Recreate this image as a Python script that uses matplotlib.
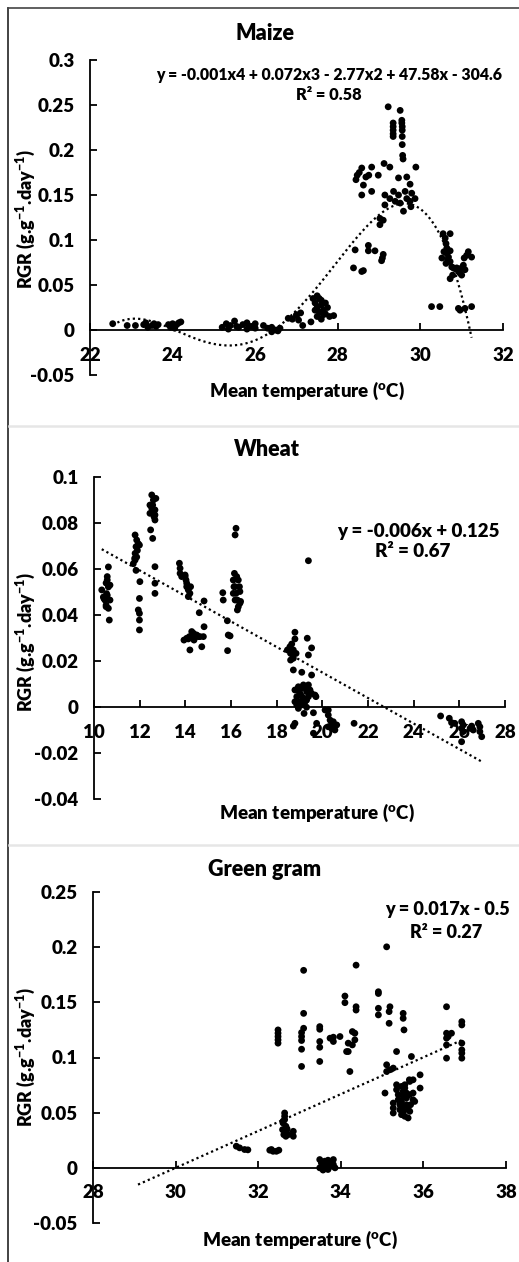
import numpy as np
import matplotlib
matplotlib.use('Agg')
import matplotlib.pyplot as plt
from matplotlib.ticker import FuncFormatter
from matplotlib.lines import Line2D

WEIGHT = 'heavy'
plt.rcParams['font.family'] = ['Lato', 'DejaVu Sans']
plt.rcParams['font.weight'] = WEIGHT
plt.rcParams['mathtext.fontset'] = 'custom'
plt.rcParams['mathtext.rm'] = 'Lato:' + WEIGHT
plt.rcParams['mathtext.it'] = 'Lato:' + WEIGHT
plt.rcParams['mathtext.bf'] = 'Lato:' + WEIGHT
plt.rcParams['mathtext.default'] = 'rm'

# ---- Maize: mean temperature vs RGR ----
maize_temp = [22.55, 22.9, 23.1, 23.3, 23.35, 23.4, 23.5, 23.55, 23.6, 23.65, 23.9, 23.95, 24.0, 24.0, 24.05, 24.1, 24.15, 24.2,
              25.2, 25.3, 25.35, 25.4, 25.5, 25.55, 25.6, 25.7, 25.8, 25.8, 25.9, 26.0, 26.0, 26.2, 26.3, 26.4, 26.4, 26.5, 26.55, 26.6,
              26.8, 26.9, 27.0, 27.0, 27.05, 27.1, 27.15, 27.35, 27.4, 27.45, 27.45, 27.5, 27.5, 27.5, 27.55, 27.55, 27.6, 27.6, 27.6,
              27.65, 27.65, 27.7, 27.7, 27.75, 27.8, 27.9,
              29.22, 29.51, 29.34, 29.34, 29.34, 29.34, 29.34, 29.55, 29.55, 29.56, 29.56, 29.56, 29.56, 29.57, 29.58,
              29.12, 29.26, 29.89, 28.58, 28.82, 28.68, 28.47, 28.44, 28.62, 28.82, 28.58, 28.98, 28.75, 28.52,
              29.47, 29.67, 29.75, 29.14, 29.35, 29.47, 29.39, 29.63, 29.79, 29.75, 29.87, 29.59, 29.77, 29.51, 29.67, 29.14, 29.26,
              29.02, 29.1, 29.02, 28.42, 28.74, 28.74, 28.9, 29.1, 29.08, 29.06, 28.38, 28.62, 28.58,
              30.55, 30.72, 30.6, 30.62, 30.64, 30.57, 30.52, 30.68, 30.72, 30.76, 30.78, 30.72, 30.8, 30.88, 30.96, 31.0, 31.04,
              31.06, 31.12, 31.16, 31.24, 31.08, 31.0, 30.92, 30.64, 30.72, 30.66, 30.62,
              30.27, 30.47, 30.92, 31.08, 31.24, 30.96]
maize_rgr = [0.007, 0.005, 0.005, 0.006, 0.008, 0.003, 0.005, 0.007, 0.004, 0.006, 0.006, 0.003, 0.004, 0.007, 0.002, 0.006, 0.008, 0.009,
             0.003, 0.007, 0.001, 0.005, 0.010, 0.004, 0.003, 0.006, 0.008, 0.001, 0.004, 0.007, 0.002, 0.005, 0.002, -0.002, 0.003, 0.0, -0.001, 0.002,
             0.013, 0.012, 0.016, 0.017, 0.011, 0.019, 0.005, 0.009, 0.035, 0.030, 0.022, 0.038, 0.025, 0.015, 0.020, 0.035, 0.033, 0.028, 0.012,
             0.022, 0.017, 0.030, 0.018, 0.025, 0.015, 0.016,
             0.248, 0.244, 0.230, 0.226, 0.222, 0.218, 0.215, 0.233, 0.230, 0.226, 0.222, 0.215, 0.206, 0.194, 0.190,
             0.185, 0.181, 0.181, 0.180, 0.181, 0.170, 0.172, 0.167, 0.161, 0.154, 0.150, 0.172, 0.172, 0.175,
             0.169, 0.170, 0.162, 0.150, 0.154, 0.150, 0.143, 0.154, 0.152, 0.143, 0.146, 0.132, 0.137, 0.141, 0.146, 0.139, 0.146,
             0.124, 0.122, 0.117, 0.089, 0.094, 0.088, 0.088, 0.084, 0.080, 0.077, 0.069, 0.066, 0.065,
             0.107, 0.107, 0.102, 0.096, 0.091, 0.087, 0.080, 0.081, 0.076, 0.070, 0.061, 0.057, 0.069, 0.069, 0.063, 0.069, 0.072,
             0.080, 0.083, 0.087, 0.081, 0.067, 0.061, 0.065, 0.085, 0.088, 0.078, 0.074,
             0.026, 0.026, 0.024, 0.024, 0.026, 0.022]
# 4th order trend line (roots and scale)
maize_fit_roots = [22.4, 24.05, 26.45, 31.2]
maize_fit_scale = -0.000698
maize_eq = "y = -0.001x4 + 0.072x3 - 2.77x2 + 47.58x - 304.6"
maize_r2 = "R² = 0.58"

# ---- Wheat ----
wheat_temp = [10.34, 10.41, 10.55, 10.48, 10.53, 10.58, 10.63, 10.58, 10.58, 10.63, 10.53, 10.63, 10.67, 10.7, 10.53, 10.44, 10.7,
              11.8, 11.87, 11.84, 11.8, 11.8, 11.87, 11.9, 11.94, 11.72, 11.84, 11.78, 11.99, 12.01, 11.99, 11.94, 11.99, 11.99, 11.99,
              12.53, 12.6, 12.57, 12.53, 12.6, 12.45, 12.63, 12.67, 12.71, 12.67, 12.48, 12.57, 12.67, 12.67, 12.67, 12.67, 12.45,
              13.74, 13.77, 13.77, 13.84, 13.99, 14.03, 14.06, 14.06, 14.13, 14.2, 14.23, 14.13, 13.99,
              14.61, 14.82, 14.82, 14.72,
              13.94, 14.06, 14.18, 14.28, 14.36, 14.42, 14.5, 14.64, 14.79, 14.2, 14.38, 14.56, 14.32, 14.13,
              15.64, 15.66, 15.84, 15.88, 15.96, 15.85, 16.18, 16.22, 16.15, 16.1, 16.18, 16.22, 16.28, 16.32, 16.18, 16.37, 16.39,
              16.42, 16.1, 16.25, 16.32, 16.13, 16.28, 16.39,
              18.47, 18.58, 18.66, 18.73, 18.61, 18.73, 18.85, 18.8, 18.8, 18.7, 18.61, 18.73, 19.1, 19.34, 19.53, 19.53, 19.39,
              19.39,
              18.8, 18.88, 18.95, 19.02, 19.09, 19.17, 19.24, 19.31, 19.39, 19.46, 19.02, 19.17, 19.31, 18.88, 18.95, 19.09, 19.24,
              19.39, 19.53, 19.68, 19.72, 19.2, 19.31, 18.8, 18.95, 19.09, 19.61,
              18.73, 18.8, 19.61, 19.75, 20.12, 20.26, 20.26, 20.34, 20.41, 20.48, 20.55, 20.48, 20.26, 20.41, 20.63, 21.39,
              25.18, 25.56, 25.66, 25.8, 26.1, 26.1, 26.17, 26.17, 26.1, 26.47, 26.54, 26.83, 26.9, 26.9, 26.98, 26.61]
wheat_rgr = [0.0509, 0.0478, 0.0493, 0.0465, 0.0443, 0.0486, 0.0522, 0.0552, 0.0567, 0.0609, 0.0436, 0.0429, 0.0378, 0.0530, 0.0539, 0.0471, 0.0465,
             0.0748, 0.0726, 0.0697, 0.0668, 0.0639, 0.0652, 0.0681, 0.0710, 0.0623, 0.0594, 0.0646, 0.0704, 0.0545, 0.0472, 0.0422, 0.0407, 0.0378, 0.0335,
             0.0922, 0.0900, 0.0878, 0.0864, 0.0849, 0.0842, 0.0827, 0.0813, 0.0907, 0.0835, 0.0770, 0.0733, 0.0610, 0.0538, 0.0494, 0.0857, 0.0878,
             0.0625, 0.0603, 0.0581, 0.0567, 0.0574, 0.0552, 0.0538, 0.0523, 0.0509, 0.0494, 0.0523, 0.0480, 0.0567,
             0.0410, 0.0461, 0.0349, 0.0262,
             0.0291, 0.0299, 0.0306, 0.0328, 0.0320, 0.0306, 0.0313, 0.0306, 0.0306, 0.0248, 0.0291, 0.0306, 0.0306, 0.0296,
             0.0497, 0.0465, 0.0375, 0.0313, 0.0309, 0.0245, 0.0748, 0.0777, 0.0581, 0.0552, 0.0523, 0.0494, 0.0465, 0.0436, 0.0465, 0.0523, 0.0502,
             0.0459, 0.0494, 0.0567, 0.0552, 0.0523, 0.0422, 0.0451,
             0.0248, 0.0262, 0.0274, 0.0248, 0.0233, 0.0212, 0.0233, 0.0325, 0.0296, 0.0212, 0.0204, 0.0161, 0.0151, 0.0299, 0.0257, 0.0139, 0.0226,
             0.0636,
             0.0074, 0.0045, 0.0088, 0.0059, 0.0081, 0.0096, 0.0088, 0.0067, 0.0096, 0.0074, 0.0023, 0.0038, 0.0030, 0.0009, -0.0006, 0.0009, 0.0023,
             0.0045, 0.0059, 0.0052, 0.0045, -0.0028, -0.0001, 0.0023, 0.0071, 0.0048, -0.0025,
             -0.0083, -0.0071, -0.0114, -0.0071, -0.0013, -0.0013, -0.0035, -0.0057, -0.0071, -0.0086, -0.0100, -0.0064, -0.0086, -0.0093, -0.0078, -0.0071,
             -0.0039, -0.0049, -0.0068, -0.0071, -0.0064, -0.0093, -0.0078, -0.0107, -0.0151, -0.0093, -0.0083, -0.0071, -0.0086, -0.0107, -0.0129, -0.0100]
wheat_fit = [-0.00555, 0.1260]  # slope, intercept
wheat_eq = "y = -0.006x + 0.125"
wheat_r2 = "R² = 0.67"

# ---- Green gram ----
gram_temp = [31.47, 31.55, 31.67, 31.75,
             32.28, 32.36, 32.44, 32.5, 32.32,
             32.48, 32.48, 32.48, 32.48, 32.48,
             32.64, 32.64, 32.64, 32.6, 32.67, 32.59, 32.68, 32.62, 32.67, 32.73, 32.85, 32.85, 32.6, 32.7,
             33.1, 33.1, 33.1, 33.05, 33.05, 33.05, 33.05, 33.05,
             33.49, 33.49, 33.49, 33.49, 33.49,
             33.74, 33.82, 33.82, 33.98,
             34.1, 34.1, 34.18, 34.18, 34.14, 34.22, 34.28, 34.28, 34.34, 34.34, 34.37, 34.37, 34.37,
             34.91, 34.91, 34.91, 34.91, 35.11, 35.17, 35.17, 35.19,
             35.11, 35.11, 35.07, 35.19, 35.27, 35.35,
             35.27, 35.27, 35.27, 35.35, 35.35, 35.39, 35.39, 35.43, 35.43, 35.47, 35.51, 35.51, 35.47, 35.51, 35.55, 35.55,
             35.59, 35.59, 35.51, 35.55, 35.59, 35.63, 35.47, 35.66, 35.63, 35.67, 35.66, 35.67, 35.69,
             35.51, 35.51, 35.53,
             35.71, 35.75, 35.75, 35.75, 35.79, 35.92, 35.92,
             36.56, 36.56, 36.56, 36.56, 36.56, 36.68, 36.6,
             36.93, 36.93, 36.93, 36.93, 36.93, 36.93,
             33.49, 33.53, 33.49, 33.61, 33.65, 33.69, 33.74, 33.78, 33.82, 33.82, 33.86, 33.57, 33.69, 33.61]
gram_rgr = [0.0196, 0.0181, 0.0166, 0.0163,
            0.0160, 0.0150, 0.0150, 0.0160, 0.0166,
            0.125, 0.122, 0.119, 0.116, 0.113,
            0.0497, 0.0467, 0.0437, 0.0407, 0.0377, 0.0346, 0.0331, 0.0301, 0.0286, 0.0301, 0.0331, 0.0286, 0.0422, 0.0352,
            0.179, 0.140, 0.1265, 0.1226, 0.119, 0.1154, 0.1075, 0.0919,
            0.128, 0.1256, 0.1145, 0.1093, 0.0964,
            0.1175, 0.1184, 0.1145, 0.119,
            0.1557, 0.1497, 0.1054, 0.113, 0.1054, 0.0873, 0.1114, 0.1235, 0.122, 0.116, 0.146, 0.143, 0.1837,
            0.1596, 0.158, 0.1446, 0.1386, 0.2003, 0.1416, 0.131, 0.146,
            0.0934, 0.0873, 0.0678, 0.0889, 0.0904, 0.1054,
            0.0587, 0.0542, 0.0497, 0.0753, 0.0708, 0.0663, 0.0617, 0.0572, 0.0527, 0.0738, 0.0693, 0.0648, 0.0602, 0.0557, 0.0753, 0.0723,
            0.0678, 0.0633, 0.0512, 0.0467, 0.0572, 0.0527, 0.0482, 0.0798, 0.0452, 0.0512, 0.0663, 0.0783, 0.0572,
            0.140, 0.1355, 0.125,
            0.1009, 0.0798, 0.0678, 0.0617, 0.0602, 0.0843, 0.0723,
            0.146, 0.122, 0.1175, 0.1114, 0.0994, 0.122, 0.119,
            0.1325, 0.1295, 0.113, 0.1069, 0.1039, 0.0994,
            0.0075, 0.0045, 0.0, 0.0015, 0.0045, 0.0069, 0.003, 0.0015, 0.0075, 0.003, 0.0, -0.002, -0.0015, 0.006]
gram_fit = [0.0167, -0.501]  # slope, intercept
gram_fit_start = 29.09      # line is extended back (forecast)
gram_eq = "y = 0.017x - 0.5"
gram_r2 = "R² = 0.27"

W, H = 519, 1262
fig = plt.figure(figsize=(W / 100, H / 100), dpi=100)


def px_axes(left, right, top, bottom):
    return fig.add_axes([left / W, 1 - bottom / H, (right - left) / W, (bottom - top) / H])


def ftext(x, y, s, **kw):
    fig.text(x / W, 1 - y / H, s, fontweight=WEIGHT, **kw)


def style_axes(ax, xlim, ylim, ystep):
    ax.set_xlim(*xlim)
    ax.set_ylim(*ylim)
    ax.set_xticks(np.arange(xlim[0], xlim[1] + 0.01, 2))
    ax.set_yticks(np.arange(ylim[0], ylim[1] + ystep / 2, ystep))
    ax.yaxis.set_major_formatter(FuncFormatter(lambda v, p: '%g' % round(v, 4)))
    ax.spines['top'].set_visible(False)
    ax.spines['right'].set_visible(False)
    ax.spines['bottom'].set_position(('data', 0))
    for sp in ('left', 'bottom'):
        ax.spines[sp].set_linewidth(1.3)
    ax.tick_params(direction='in', length=5, width=1.3, labelsize=13.5)
    ax.tick_params(axis='x', pad=12)
    ax.tick_params(axis='y', pad=11)
    for lab in ax.get_xticklabels() + ax.get_yticklabels():
        lab.set_fontweight(WEIGHT)
    ax.patch.set_alpha(0)


dot_style = dict(s=24, color='black', edgecolor='none', zorder=3, clip_on=False)
trend_style = dict(color='black', lw=1.6, linestyle=(0, (1, 1.4)), zorder=2)
ylabel = 'RGR (g.g$^{-1}$.day$^{-1}$)'
xlabel = 'Mean temperature ($^{o}$C)'

# Maize
ax1 = px_axes(90, 503, 60, 375)
ax1.scatter(maize_temp, maize_rgr, **dot_style)
xs = np.linspace(min(maize_temp), max(maize_temp), 300)
ys = maize_fit_scale * np.prod([xs - r for r in maize_fit_roots], axis=0)
ax1.plot(xs, ys, **trend_style)
style_axes(ax1, (22, 32), (-0.05, 0.3), 0.05)
ftext(265, 33, 'Maize', ha='center', va='center', fontsize=15.5)
ftext(329, 80, maize_eq, ha='center', va='baseline', fontsize=11.3)
ftext(329, 100, maize_r2, ha='center', va='baseline', fontsize=11.8)
ftext(307, 391, xlabel, ha='center', va='center', fontsize=13.5)
ftext(25, 219, ylabel, ha='center', va='center', rotation=90, fontsize=13)

# Wheat
ax2 = px_axes(94, 505, 477, 799)
ax2.scatter(wheat_temp, wheat_rgr, **dot_style)
xs = np.linspace(min(wheat_temp), max(wheat_temp), 50)
ax2.plot(xs, wheat_fit[0] * xs + wheat_fit[1], **trend_style)
style_axes(ax2, (10, 28), (-0.04, 0.1), 0.02)
ftext(267, 449, 'Wheat', ha='center', va='center', fontsize=15.5)
ftext(418, 537, wheat_eq, ha='center', va='baseline', fontsize=13.5)
ftext(413, 557, wheat_r2, ha='center', va='baseline', fontsize=13.5)
ftext(317, 813, xlabel, ha='center', va='center', fontsize=13.5)
ftext(25, 642, ylabel, ha='center', va='center', rotation=90, fontsize=13)

# Green gram
ax3 = px_axes(93, 506, 892, 1223)
ax3.scatter(gram_temp, gram_rgr, **dot_style)
xs = np.linspace(gram_fit_start, max(gram_temp), 50)
ax3.plot(xs, gram_fit[0] * xs + gram_fit[1], **trend_style)
style_axes(ax3, (28, 38), (-0.05, 0.25), 0.05)
ftext(265, 870, 'Green gram', ha='center', va='center', fontsize=15.5)
ftext(447, 915, gram_eq, ha='center', va='baseline', fontsize=13)
ftext(446, 938, gram_r2, ha='center', va='baseline', fontsize=13)
ftext(300, 1240, xlabel, ha='center', va='center', fontsize=13.5)
ftext(25, 1057, ylabel, ha='center', va='center', rotation=90, fontsize=13)

# chart borders and panel separators
fig.add_artist(Line2D([8 / W, 8 / W], [0, 1 - 8 / H], color='#222222', lw=1.2))
fig.add_artist(Line2D([8 / W, 1], [1 - 8 / H, 1 - 8 / H], color='#444444', lw=1.2))
for ysep in (426, 845):
    fig.add_artist(Line2D([9 / W, 1], [1 - ysep / H, 1 - ysep / H], color='#e6e6e6', lw=1.8))

fig.savefig('out.png', dpi=100)
